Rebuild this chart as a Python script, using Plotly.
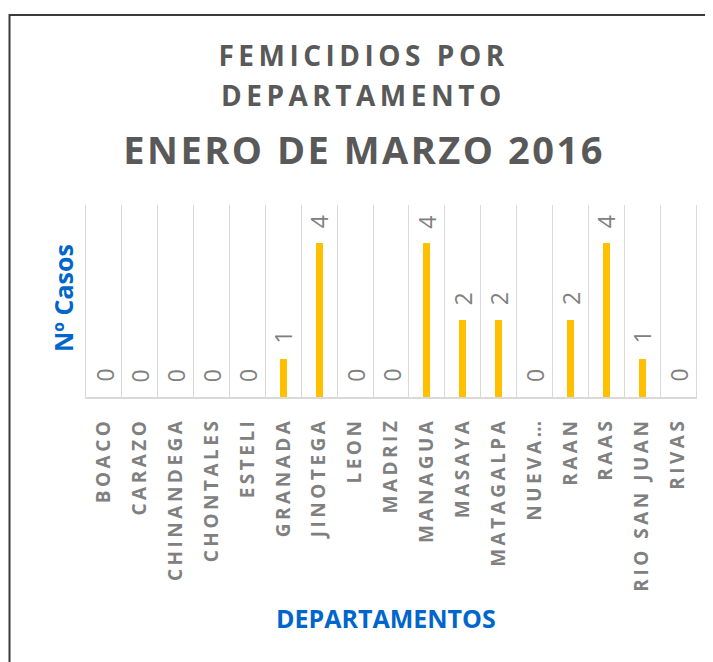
import plotly.graph_objects as go

departamentos = ['BOACO', 'CARAZO', 'CHINANDEGA', 'CHONTALES', 'ESTELI', 'GRANADA',
                 'JINOTEGA', 'LEON', 'MADRIZ', 'MANAGUA', 'MASAYA', 'MATAGALPA',
                 'NUEVA…', 'RAAN', 'RAAS', 'RIO SAN JUAN', 'RIVAS']
casos = [0, 0, 0, 0, 0, 1, 4, 0, 0, 4, 2, 2, 0, 2, 4, 1, 0]

title_lines = ['FEMICIDIOS POR', 'DEPARTAMENTO', 'ENERO DE MARZO 2016']

FONT = 'Open Sans'
GRAY_TITLE = '#595959'
GRAY_LABEL = '#808080'
BLUE = '#0066CC'
GRID = '#D9D9D9'

fig = go.Figure()
fig.add_trace(go.Bar(x=departamentos, y=casos, width=0.19,
                     marker=dict(color='#FFC000', line=dict(width=0)),
                     hoverinfo='skip'))

# data labels, rotated like the original
for d, v in zip(departamentos, casos):
    fig.add_annotation(x=d, y=v, text=str(v), textangle=-90, showarrow=False,
                       xanchor='center', yanchor='bottom', yshift=13,
                       font=dict(family=FONT, size=23, color=GRAY_LABEL))

# title lines (paper coords)
for txt, yp, size in zip(title_lines, [1.781, 1.573, 1.294], [28, 28, 38]):
    fig.add_annotation(x=0.4557, y=yp, xref='paper', yref='paper', text=txt,
                       showarrow=False, xanchor='center', yanchor='middle',
                       font=dict(family=FONT, size=size, color=GRAY_TITLE, weight='bold'))

fig.add_annotation(x=0.4918, y=-1.1536, xref='paper', yref='paper', text='DEPARTAMENTOS',
                   showarrow=False, xanchor='center', yanchor='middle',
                   font=dict(family=FONT, size=25, color=BLUE, weight='bold'))
fig.add_annotation(x=-0.0377, y=0.5156, xref='paper', yref='paper', text='Nº Casos',
                   showarrow=False, textangle=-90, xanchor='center', yanchor='middle',
                   font=dict(family=FONT, size=25, color=BLUE, weight='bold'))

# outer frame
fig.add_shape(type='rect', xref='paper', yref='paper', x0=-0.1254, x1=1.06, y0=-1.5, y1=1.9896,
              line=dict(color='#3a3a3a', width=2))

fig.update_xaxes(tickangle=-90, tickson='boundaries', showgrid=True, gridcolor=GRID,
                 gridwidth=1, showline=True, linecolor=GRID, linewidth=2,
                 ticks='', ticklabelstandoff=11,
                 tickfont=dict(family=FONT, size=19, color=GRAY_LABEL, weight='bold'))
fig.update_yaxes(range=[0, 5], showgrid=False, zeroline=False, showticklabels=False,
                 showline=True, mirror=True, linecolor=GRID, linewidth=1)

# page body keeps its 8px margin, so the figure is shifted up/left by 8px here
fig.update_layout(width=713, height=662, plot_bgcolor='white', paper_bgcolor='white',
                  showlegend=False, bargap=0,
                  margin=dict(l=78, r=25, t=197, b=273, autoexpand=False))

spacing_js = """
var gd = document.getElementById('{plot_id}');
gd.querySelectorAll('.xtick text').forEach(function(t){ t.style.letterSpacing = '3.5px'; });
var sp = {17: '4.5px', 18: '4.5px', 19: '2.5px'};
Object.keys(sp).forEach(function(i){
  var a = gd.querySelector('.annotation[data-index="' + i + '"] text');
  if (a) a.style.letterSpacing = sp[i];
});
"""

fig.write_html("out.html", post_script=spacing_js)
